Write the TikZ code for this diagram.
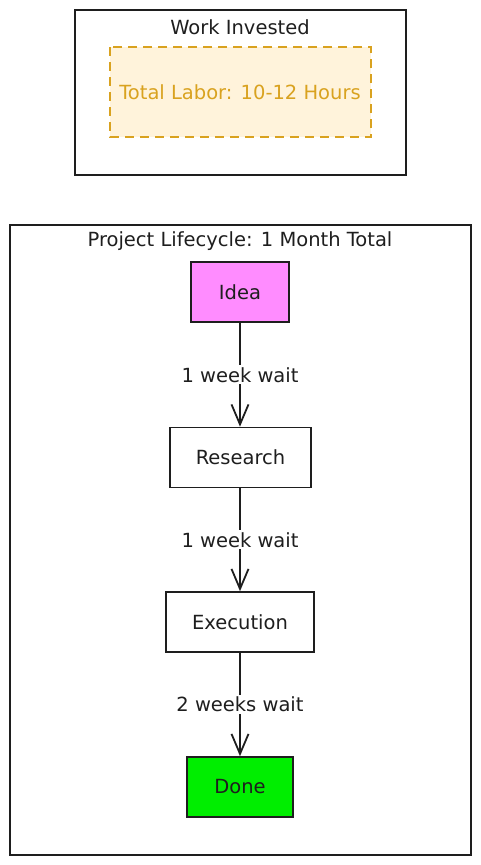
\documentclass[tikz,border=0pt]{standalone}
\usepackage{fontspec}
\setmainfont{DejaVu Sans}
\usetikzlibrary{arrows.meta}
\definecolor{ink}{HTML}{1E1E1E}
\definecolor{amber}{HTML}{D9A21F}
\definecolor{amberfill}{HTML}{FFF3DB}
\definecolor{ideafill}{HTML}{FF8CFF}
\definecolor{donefill}{HTML}{00EE00}
\tikzset{
  frame/.style={draw=ink, line width=1.6pt},
  stepbox/.style={draw=ink, line width=1.6pt, minimum height=60pt, inner sep=0pt, font=\fontsize{19.5}{23}\selectfont, text=ink},
  flow/.style={draw=ink, line width=2.2pt, -{Straight Barb[length=20pt, width=17pt, line width=1.8pt]}},
  lbl/.style={fill=white, inner sep=2pt, font=\fontsize{19.5}{23}\selectfont, text=ink},
  ttl/.style={font=\fontsize{19.5}{23}\selectfont, text=ink, inner sep=0pt}
}
\begin{document}
\begin{tikzpicture}[x=1pt, y=-1pt]
\useasboundingbox (0,0) rectangle (481,865);
% top frame
\draw[frame] (75,10) rectangle (406,175);
\node[ttl] (wi) at (240,27) {Work Invested};
\draw[draw=amber, fill=amberfill, line width=1.8pt, dash pattern=on 9pt off 6pt] (110,47) rectangle (371,137);
\node[ttl, text=amber] (tl) at (240,92) {Total Labor: 10-12 Hours};
% lifecycle frame
\draw[frame] (10,225) rectangle (471,855);
\node[ttl] (pl) at (240,241) {Project Lifecycle: 1 Month Total};
\node[stepbox, fill=ideafill, minimum width=98pt] (idea) at (240,292) {Idea};
\node[stepbox, fill=white, minimum width=141pt] (research) at (240.5,457.5) {Research};
\node[stepbox, fill=white, minimum width=148pt] (exec) at (240,622) {Execution};
\node[stepbox, fill=donefill, minimum width=106pt] (done) at (240,787) {Done};
\draw[flow] (idea) -- node[lbl] {1 week wait} (research.north -| idea);
\draw[flow] (research.south -| idea) -- node[lbl] {1 week wait} (exec);
\draw[flow] (exec) -- node[lbl] {2 weeks wait} (done);
\end{tikzpicture}
\end{document}
